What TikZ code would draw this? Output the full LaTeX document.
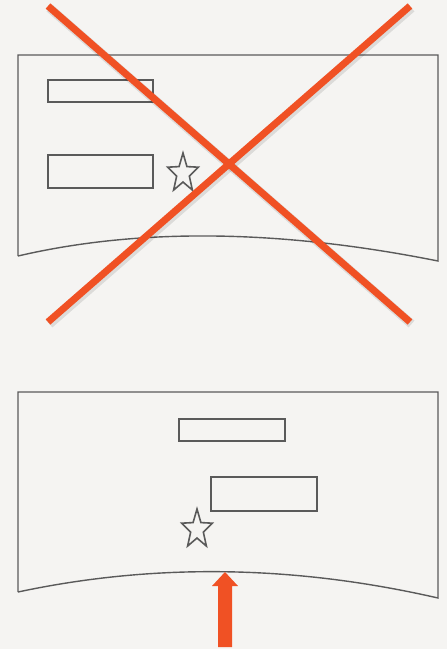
\documentclass[tikz,border=0pt]{standalone}
\usetikzlibrary{shapes.geometric}
\definecolor{bg}{HTML}{F5F4F2}
\definecolor{ink}{HTML}{5A5A5A}
\definecolor{accent}{HTML}{F05124}
\tikzset{
  panel/.style={draw=ink, line width=1.4pt},
  field/.style={draw=ink, line width=1.8pt},
  starmark/.style={star, star points=5, star point ratio=2.4, draw=ink, line width=1.6pt, minimum size=32pt, inner sep=0pt, yscale=1.28},
  cross/.style={draw=accent, line width=7pt},
  crossshadow/.style={draw=black, opacity=0.10, line width=9pt},
}
\begin{document}
\begin{tikzpicture}[x=1pt, y=-1pt]
\useasboundingbox[fill=bg] (0,0) rectangle (447,649);
% top panel
\draw[panel] (18,256) -- (18,55) -- (438,55) -- (438,261) .. controls (278,229) and (138,228) .. (18,256);
\draw[field] (48,80) rectangle (153,102);
\draw[field] (48,155) rectangle (153,188);
\node[starmark] (s1) at (183,173.5) {};
% red cross
\coordinate (a1) at (48,6);
\coordinate (a2) at (410,322);
\coordinate (b1) at (48,322);
\coordinate (b2) at (410,6);
\draw[crossshadow] ([shift={(1.5,2)}]a1) -- ([shift={(1.5,2)}]a2);
\draw[crossshadow] ([shift={(1.5,2)}]b1) -- ([shift={(1.5,2)}]b2);
\draw[cross] (a1) -- (a2);
\draw[cross] (b1) -- (b2);
% bottom panel
\draw[panel] (18,592) -- (18,392) -- (438,392) -- (438,598) .. controls (294,565) and (154,563) .. (18,592);
\draw[field] (179,419) rectangle (285,441);
\draw[field] (211,477) rectangle (317,511);
\node[starmark] (s2) at (197,529.5) {};
% arrow
\coordinate (tip) at (225,572);
\fill[accent] (218,647) -- (218,586) -- (212,586) -- (tip) -- (238,586) -- (232,586) -- (232,647) -- cycle;
\end{tikzpicture}
\end{document}
